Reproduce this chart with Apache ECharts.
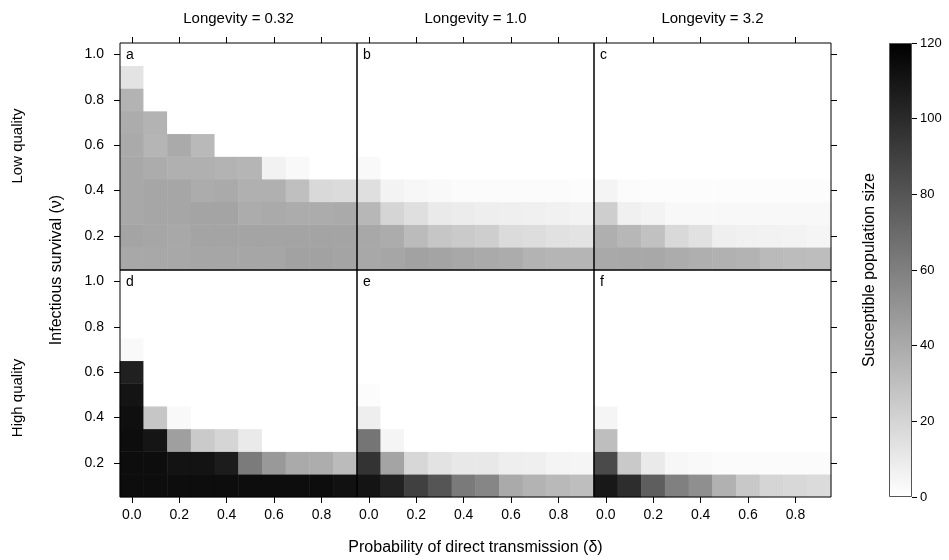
<!DOCTYPE html>
<html>
<head>
<meta charset="utf-8">
<script src="https://cdn.jsdelivr.net/npm/echarts@6/dist/echarts.min.js"></script>
<style>
  html, body { margin: 0; padding: 0; background: #fff; }
  #chart { width: 949px; height: 560px; }
</style>
</head>
<body>
<div id="chart"></div>
<script>
// columns: probability of direct transmission, rows: infectious survival
const deltaCats = ['0.0', '0.1', '0.2', '0.3', '0.4', '0.5', '0.6', '0.7', '0.8', '0.9']
const nuCats = ['0.1', '0.2', '0.3', '0.4', '0.5', '0.6', '0.7', '0.8', '0.9', '1.0']
const longevityLabels = ['Longevity = 0.32', 'Longevity = 1.0', 'Longevity = 3.2']
const qualityLabels = ['Low quality', 'High quality']
const panelLetters = ['a', 'b', 'c', 'd', 'e', 'f']

// each panel: rows from nu = 0.1 (first) up to nu = 1.0 (last)
const panelA = [
  [41, 41, 41, 42, 42, 42, 42, 44, 44, 43],
  [43, 42, 41, 43, 43, 43, 43, 43, 43, 43],
  [41, 42, 42, 43, 43, 39, 40, 39, 39, 40],
  [41, 42, 42, 39, 40, 37, 37, 30, 18, 17],
  [41, 39, 37, 37, 36, 35, 6, 3, 0, 0],
  [40, 35, 40, 33, 0, 0, 0, 0, 0, 0],
  [39, 36, 0, 0, 0, 0, 0, 0, 0, 0],
  [36, 0, 0, 0, 0, 0, 0, 0, 0, 0],
  [13, 0, 0, 0, 0, 0, 0, 0, 0, 0],
  [0, 0, 0, 0, 0, 0, 0, 0, 0, 0]
]
const panelB = [
  [41, 42, 44, 43, 41, 40, 39, 36, 35, 35],
  [41, 39, 32, 27, 25, 23, 17, 16, 14, 13],
  [34, 20, 15, 10, 9, 8, 7.5, 7, 6.5, 5.5],
  [15, 5.5, 4, 3, 2, 2, 2, 2, 2, 1.5],
  [3, 0, 0, 0, 0, 0, 0, 0, 0, 0],
  [0, 0, 0, 0, 0, 0, 0, 0, 0, 0],
  [0, 0, 0, 0, 0, 0, 0, 0, 0, 0],
  [0, 0, 0, 0, 0, 0, 0, 0, 0, 0],
  [0, 0, 0, 0, 0, 0, 0, 0, 0, 0],
  [0, 0, 0, 0, 0, 0, 0, 0, 0, 0]
]
const panelC = [
  [40.5, 41, 41, 39, 37.5, 36.5, 36, 32.5, 31.5, 31],
  [37.5, 34, 29, 18, 14, 7.5, 6.5, 6, 5.5, 4.5],
  [23, 7, 5.5, 3.5, 3.5, 3.5, 3.5, 3.5, 3.5, 3.5],
  [5, 2, 1.5, 1.5, 1.5, 1.5, 1.5, 1.5, 1.5, 1.5],
  [0, 0, 0, 0, 0, 0, 0, 0, 0, 0],
  [0, 0, 0, 0, 0, 0, 0, 0, 0, 0],
  [0, 0, 0, 0, 0, 0, 0, 0, 0, 0],
  [0, 0, 0, 0, 0, 0, 0, 0, 0, 0],
  [0, 0, 0, 0, 0, 0, 0, 0, 0, 0],
  [0, 0, 0, 0, 0, 0, 0, 0, 0, 0]
]
const panelD = [
  [114, 114, 114, 114, 114, 114, 114, 114, 114, 112],
  [114, 114, 111, 111, 107, 62, 48, 40, 38.5, 32],
  [114, 110, 45, 25, 20, 10, 0, 0, 0, 0],
  [113, 27, 3, 0, 0, 0, 0, 0, 0, 0],
  [110.5, 0, 0, 0, 0, 0, 0, 0, 0, 0],
  [105, 0, 0, 0, 0, 0, 0, 0, 0, 0],
  [3, 0, 0, 0, 0, 0, 0, 0, 0, 0],
  [0, 0, 0, 0, 0, 0, 0, 0, 0, 0],
  [0, 0, 0, 0, 0, 0, 0, 0, 0, 0],
  [0, 0, 0, 0, 0, 0, 0, 0, 0, 0]
]
const panelE = [
  [110.5, 104, 90, 80, 62.5, 57, 40, 36, 33, 30.5],
  [96, 43, 19, 13, 11, 11, 8, 7.5, 5, 4.5],
  [65, 4.5, 0, 0, 0, 0, 0, 0, 0, 0],
  [8, 0, 0, 0, 0, 0, 0, 0, 0, 0],
  [1.5, 0, 0, 0, 0, 0, 0, 0, 0, 0],
  [0, 0, 0, 0, 0, 0, 0, 0, 0, 0],
  [0, 0, 0, 0, 0, 0, 0, 0, 0, 0],
  [0, 0, 0, 0, 0, 0, 0, 0, 0, 0],
  [0, 0, 0, 0, 0, 0, 0, 0, 0, 0],
  [0, 0, 0, 0, 0, 0, 0, 0, 0, 0]
]
const panelF = [
  [108.5, 99, 76, 60, 52.5, 36.5, 26, 20, 18.5, 17],
  [85, 25.5, 10, 4, 3, 2, 2, 2, 2, 2],
  [30.5, 0, 0, 0, 0, 0, 0, 0, 0, 0],
  [4.5, 0, 0, 0, 0, 0, 0, 0, 0, 0],
  [0, 0, 0, 0, 0, 0, 0, 0, 0, 0],
  [0, 0, 0, 0, 0, 0, 0, 0, 0, 0],
  [0, 0, 0, 0, 0, 0, 0, 0, 0, 0],
  [0, 0, 0, 0, 0, 0, 0, 0, 0, 0],
  [0, 0, 0, 0, 0, 0, 0, 0, 0, 0],
  [0, 0, 0, 0, 0, 0, 0, 0, 0, 0]
]
const panels = [panelA, panelB, panelC, panelD, panelE, panelF]
const scaleMax = 120

const FONT = '"Liberation Sans", Arial, Helvetica, sans-serif'
const plotLeft = 120
const plotTop = 43
const cellW = 237
const cellH = 227

const chart = echarts.init(document.getElementById('chart'))

const grids = []
const xAxes = []
const yAxes = []
const series = []
const graphics = []

const evenIdx = (i) => i % 2 === 0
const oddIdx = (i) => i % 2 === 1
const tickStyle = { lineStyle: { color: '#000', width: 1 } }
const labelStyle = { color: '#000', fontSize: 14, fontFamily: FONT }
const titleStyle = { color: '#000', fontSize: 16, fontFamily: FONT }
const stripStyle = { color: '#000', fontSize: 15, fontFamily: FONT }

panels.forEach((panel, k) => {
  const row = Math.floor(k / 3)
  const col = k % 3
  const left = plotLeft + col * cellW
  const top = plotTop + row * cellH
  grids.push({
    left: left, top: top, width: cellW, height: cellH,
    show: true, borderColor: '#000', borderWidth: 1, z: 5
  })

  // bottom x axis (ticks + labels only on bottom row)
  const xBottom = xAxes.length
  xAxes.push({
    type: 'category', gridIndex: k, position: 'bottom', data: deltaCats,
    axisLine: { show: false },
    axisTick: Object.assign({ show: row === 1, alignWithLabel: true, interval: evenIdx, length: 6 }, tickStyle),
    axisLabel: Object.assign({ show: row === 1, interval: evenIdx, margin: 11 }, labelStyle),
    splitLine: { show: false },
    name: k === 4 ? 'Probability of direct transmission (δ)' : '',
    nameLocation: 'middle', nameGap: 43,
    nameTextStyle: titleStyle,
    z: 6
  })
  if (row === 0) {
    xAxes.push({
      type: 'category', gridIndex: k, position: 'top', data: deltaCats,
      axisLine: { show: false },
      axisTick: Object.assign({ show: true, alignWithLabel: true, interval: evenIdx, length: 6 }, tickStyle),
      axisLabel: { show: false },
      name: longevityLabels[col], nameLocation: 'middle', nameGap: 17,
      nameTextStyle: stripStyle,
      z: 6
    })
  }

  const yLeft = yAxes.length
  yAxes.push({
    type: 'category', gridIndex: k, position: 'left', data: nuCats,
    axisLine: { show: false },
    axisTick: Object.assign({ show: col === 0, alignWithLabel: true, interval: oddIdx, length: 6 }, tickStyle),
    axisLabel: Object.assign({ show: col === 0, interval: oddIdx, margin: 16 }, labelStyle),
    splitLine: { show: false },
    z: 6
  })
  if (col === 2) {
    yAxes.push({
      type: 'category', gridIndex: k, position: 'right', data: nuCats,
      axisLine: { show: false },
      axisTick: Object.assign({ show: true, alignWithLabel: true, interval: oddIdx, length: 6 }, tickStyle),
      axisLabel: { show: false },
      z: 6
    })
  }

  const cells = []
  panel.forEach((vals, r) => {
    vals.forEach((v, c) => cells.push([c, r, v]))
  })
  series.push({
    type: 'heatmap', name: panelLetters[k],
    xAxisIndex: xBottom, yAxisIndex: yLeft,
    data: cells, z: 2,
    emphasis: { disabled: true }
  })

  graphics.push({
    type: 'text', left: left + 6, top: top + 5, z: 10,
    style: { text: panelLetters[k], fill: '#000', font: '14px ' + FONT }
  })
})

// colour key
const keyGrid = grids.length
grids.push({ left: 889, top: 43, width: 23, height: 454 })
const keyX = xAxes.length
xAxes.push({ type: 'category', gridIndex: keyGrid, data: [''], show: false })
const keyY = yAxes.length
yAxes.push({
  type: 'value', gridIndex: keyGrid, position: 'right', min: 0, max: scaleMax, interval: 20,
  axisLine: { show: false },
  axisTick: Object.assign({ show: true, length: 5 }, tickStyle),
  axisLabel: Object.assign({ margin: 8 }, labelStyle, { fontSize: 13 }),
  splitLine: { show: false }
})
series.push({
  type: 'bar', xAxisIndex: keyX, yAxisIndex: keyY, data: [scaleMax],
  barWidth: '100%', silent: true,
  itemStyle: {
    color: new echarts.graphic.LinearGradient(0, 0, 0, 1, [
      { offset: 0, color: '#000' },
      { offset: 1, color: '#fff' }
    ]),
    borderColor: '#555', borderWidth: 1
  }
})

const rotatedText = (text, x, y, size) => ({
  type: 'text', x: x, y: y, rotation: Math.PI / 2,
  style: { text: text, fill: '#000', font: size + 'px ' + FONT, textAlign: 'center', textVerticalAlign: 'middle' }
})
graphics.push(
  rotatedText('Infectious survival (ν)', 57, 270, 16),
  rotatedText(qualityLabels[0], 18, 146, 15),
  rotatedText(qualityLabels[1], 18, 398, 15),
  rotatedText('Susceptible population size', 870, 270, 16)
)

chart.setOption({
  animation: false,
  backgroundColor: '#fff',
  textStyle: { fontFamily: FONT },
  grid: grids,
  xAxis: xAxes,
  yAxis: yAxes,
  visualMap: {
    type: 'continuous', show: false, min: 0, max: scaleMax,
    seriesIndex: [0, 1, 2, 3, 4, 5],
    inRange: { color: ['#ffffff', '#000000'] }
  },
  graphic: graphics,
  series: series
})
</script>
</body>
</html>
